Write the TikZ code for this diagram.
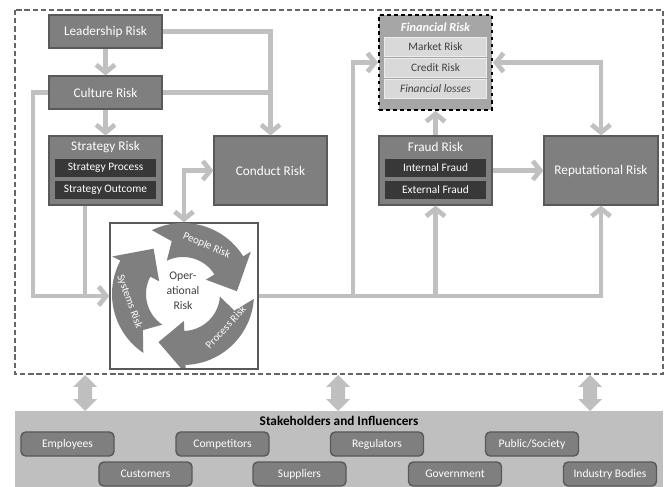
\documentclass[tikz,border=0pt]{standalone}
\usepackage{fontspec}
\setmainfont{Carlito}
\usepackage{xcolor}
\usetikzlibrary{arrows.meta, positioning}
\definecolor{boxgray}{HTML}{7F7F7F}
\definecolor{boxedge}{HTML}{595959}
\definecolor{darkbox}{HTML}{383838}
\definecolor{fingray}{HTML}{A6A6A6}
\definecolor{lightbox}{HTML}{D9D9D9}
\definecolor{textgray}{HTML}{404040}
\definecolor{linkgray}{HTML}{C0C0C0}
\definecolor{bandgray}{HTML}{BFBFBF}
\tikzset{
  riskbox/.style={draw=boxedge, line width=1pt, fill=boxgray, text=white, inner sep=0pt,
    font=\fontsize{11.3}{13}\selectfont, minimum width=3.39cm, minimum height=0.99cm},
  bigbox/.style={riskbox, minimum height=2.07cm},
  boxtitle/.style={text=white, inner sep=0pt, font=\fontsize{11.3}{13}\selectfont},
  subbox/.style={draw=boxgray, line width=0.6pt, fill=darkbox, text=white, inner sep=0pt,
    font=\fontsize{9.7}{11}\selectfont, minimum width=3.06cm, minimum height=0.57cm},
  finsub/.style={subbox, draw=white!85!gray, fill=lightbox, text=textgray},
  link/.style={draw=linkgray, line width=4pt},
  headed/.style={link, -{Straight Barb[length=6.5pt,width=16pt]}},
  twoway/.style={link, {Straight Barb[length=6.5pt,width=16pt]}-{Straight Barb[length=6.5pt,width=16pt]}},
  party/.style={draw=boxedge, line width=1.2pt, fill=boxgray, rounded corners=4pt, text=white,
    inner sep=0pt, font=\fontsize{9.9}{11}\selectfont, minimum width=2.79cm, minimum height=0.72cm},
  cyclelabel/.style={text=white, inner sep=0pt, font=\fontsize{9.3}{10}\selectfont},
}
\begin{document}
\begin{tikzpicture}[x=0.03cm, y=-0.03cm]
\useasboundingbox (0,0) rectangle (670,487);
% 外框
\draw[textgray!80, line width=1.2pt, dash pattern=on 4.5pt off 2.5pt] (15,10) rectangle (663,374);

% 左侧风险
\node[riskbox] (lead) at (105.5,31.5) {Leadership Risk};
\node[riskbox] (cult) at (105.5,92.5) {Culture Risk};
\node[bigbox] (strat) at (105.5,170.5) {};
\node[boxtitle] (strattitle) at (105.5,147) {Strategy Risk};
\node[subbox] (sproc) at (105.5,167.5) {Strategy Process};
\node[subbox] (sout) at (105.5,189.5) {Strategy Outcome};
\node[bigbox] (cond) at (270.5,170.5) {Conduct Risk};

% 右侧风险
\node[riskbox, fill=fingray, draw=black, dashed, line width=1.5pt, minimum height=2.85cm] (fin) at (435.5,62.5) {};
\node[boxtitle, font=\fontsize{10.5}{12}\selectfont\bfseries\itshape] (fintitle) at (435.5,27) {Financial Risk};
\node[finsub] (market) at (435.5,47) {Market Risk};
\node[finsub] (credit) at (435.5,67.5) {Credit Risk};
\node[finsub, font=\fontsize{9.7}{11}\selectfont\itshape] (loss) at (435.5,88.5) {Financial losses};
\node[bigbox] (fraud) at (435.5,170.5) {};
\node[boxtitle] (fraudtitle) at (435.5,147) {Fraud Risk};
\node[subbox] (intf) at (435.5,167.5) {Internal Fraud};
\node[subbox] (extf) at (435.5,189.5) {External Fraud};
\node[bigbox, minimum width=3.42cm] (rep) at (601,170.5) {Reputational Risk};

% 操作风险
\node[draw=boxedge, line width=1.2pt, fill=white, minimum width=4.44cm, minimum height=4.38cm] (op) at (184,296) {};
\coordinate (hub) at (183,294);
\begin{scope}[shift={(hub)}, yscale=-1]
\clip (-72,-73.5) rectangle (73,71.5);
\foreach \a/\txt/\p/\r [count=\i] in {116/People Risk/64/-23, -4/Process Risk/-38/47, -124/Systems Risk/188/-70}{
  \fill[boxgray] (\a:71) arc[start angle=\a, end angle=\a-84, radius=71] -- ({\a-84}:80) -- ({\a-113}:54)
    -- ({\a-84}:27) -- ({\a-84}:37) arc[start angle=\a-84, end angle=\a, radius=37] -- ({\a-14}:54) -- cycle;
  \node[cyclelabel, rotate=\r] (arc\i) at (\p:54) {\txt};
}
\end{scope}
\node[align=center, text=textgray, font=\fontsize{10}{13}\selectfont] (optext) at (183,291) {Oper-\\ational\\Risk};

% 连线
\coordinate (lft) at (33,296);
\coordinate (sdrop) at (85,296);
\coordinate (tap) at (353,296);
\draw[headed] (lead) -- (cult);
\draw[headed] (cult) -- (strat);
\draw[headed] (lead.east) -| (cond.north);
\draw[link] (cult.east) -- (cult.east -| cond.north);
\draw[headed] (cult.west) -| (lft) -- (op.west);
\draw[link] (strat.south -| sdrop) -- (sdrop);
\draw[twoway] (cond.west) -| (op.north);
\draw[headed] (op.east) -| (rep.south);
\draw[headed] (tap) |- (fin.west);
\draw[headed] (fraud.south |- op.east) -- (fraud.south);
\draw[headed] (fraud.north) -- (fin.south);
\draw[headed] (fraud.east) -- (rep.west);
\draw[twoway] (fin.east) -| (rep.north);

% 利益相关方
\fill[bandgray] (15,411) rectangle (663,487);
\foreach \x in {85,338,590}
  \fill[bandgray] (\x,375) -- ({\x+12},387) -- ({\x+7},387) -- ({\x+7},399) -- ({\x+12},399) -- (\x,411)
    -- ({\x-12},399) -- ({\x-7},399) -- ({\x-7},387) -- ({\x-12},387) -- cycle;
\node[font=\fontsize{11.3}{13}\selectfont\bfseries] (band) at (339,421) {Stakeholders and Influencers};
\node[party] (emp) at (67.5,444) {Employees};
\node[party] (comp) at (222.5,444) {Competitors};
\node[party] (reg) at (377,444) {Regulators};
\node[party] (pub) at (532,444) {Public/Society};
\node[party] (cust) at (145.5,474) {Customers};
\node[party] (supp) at (299.5,474) {Suppliers};
\node[party] (gov) at (455,474) {Government};
\node[party] (ind) at (610,474) {Industry Bodies};
\end{tikzpicture}
\end{document}
